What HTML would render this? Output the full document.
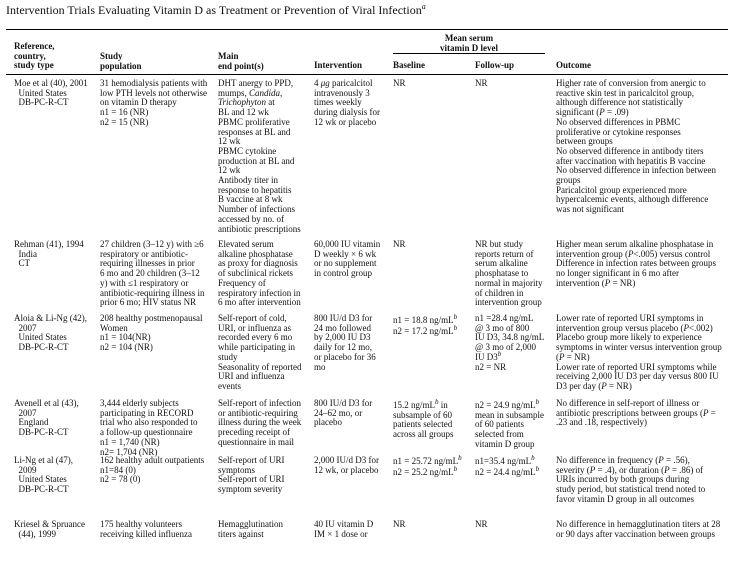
<!DOCTYPE html>
<html><head><meta charset="utf-8"><style>
body{margin:0;width:753px;height:565px;background:#fff;overflow:hidden;position:relative;font-family:"Liberation Serif",serif;color:#111}
.t{position:absolute;font-size:9px;line-height:9.7px;white-space:nowrap}
.h{font-weight:bold}
.r{position:absolute;height:0;border-top:1.3px solid #000}
sup{font-size:7px;font-style:italic;line-height:0}
i{font-style:italic}
</style></head><body>
<div class="t" style="left:6px;top:3px;font-size:12px;line-height:14px">Intervention Trials Evaluating Vitamin D as Treatment or Prevention of Viral Infection<sup style="font-size:8px">a</sup></div>
<div class="r" style="left:6px;width:722px;top:29px"></div>
<div class="r" style="left:393px;width:152px;top:53px;border-top-width:1px"></div>
<div class="r" style="left:6px;width:722px;top:74px"></div>

<div class="t h" style="left:14px;top:42px">Reference,<br>country,<br>study type</div>
<div class="t h" style="left:100px;top:52px">Study<br>population</div>
<div class="t h" style="left:218px;top:52px">Main<br>end point(s)</div>
<div class="t h" style="left:314px;top:61px">Intervention</div>
<div class="t h" style="left:393px;top:34px;width:152px;text-align:center">Mean serum<br>vitamin D level</div>
<div class="t h" style="left:393px;top:61px">Baseline</div>
<div class="t h" style="left:475px;top:61px">Follow-up</div>
<div class="t h" style="left:556px;top:61px">Outcome</div>

<!-- Moe -->
<div class="t" style="left:14px;top:79px">Moe et al (40), 2001<br>&nbsp;&nbsp;United States<br>&nbsp;&nbsp;DB-PC-R-CT</div>
<div class="t" style="left:100px;top:79px">31 hemodialysis patients with<br>low PTH levels not otherwise<br>on vitamin D therapy<br>n1 = 16 (NR)<br>n2 = 15 (NR)</div>
<div class="t" style="left:218px;top:79px">DHT anergy to PPD,<br>mumps, <i>Candida</i>,<br><i>Trichophyton</i> at<br>BL and 12 wk<br>PBMC proliferative<br>responses at BL and<br>12 wk<br>PBMC cytokine<br>production at BL and<br>12 wk<br>Antibody titer in<br>response to hepatitis<br>B vaccine at 8 wk<br>Number of infections<br>accessed by no. of<br>antibiotic prescriptions</div>
<div class="t" style="left:314px;top:79px">4 <i>μg</i> paricalcitol<br>intravenously 3<br>times weekly<br>during dialysis for<br>12 wk or placebo</div>
<div class="t" style="left:393px;top:79px">NR</div>
<div class="t" style="left:475px;top:79px">NR</div>
<div class="t" style="left:556px;top:79px">Higher rate of conversion from anergic to<br>reactive skin test in paricalcitol group,<br>although difference not statistically<br>significant (<i>P</i> = .09)<br>No observed differences in PBMC<br>proliferative or cytokine responses<br>between groups<br>No observed difference in antibody titers<br>after vaccination with hepatitis B vaccine<br>No observed difference in infection between<br>groups<br>Paricalcitol group experienced more<br>hypercalcemic events, although difference<br>was not significant</div>

<!-- Rehman -->
<div class="t" style="left:14px;top:240px">Rehman (41), 1994<br>&nbsp;&nbsp;India<br>&nbsp;&nbsp;CT</div>
<div class="t" style="left:100px;top:240px">27 children (3–12 y) with ≥6<br>respiratory or antibiotic-<br>requiring illnesses in prior<br>6 mo and 20 children (3–12<br>y) with ≤1 respiratory or<br>antibiotic-requiring illness in<br>prior 6 mo; HIV status NR</div>
<div class="t" style="left:218px;top:240px">Elevated serum<br>alkaline phosphatase<br>as proxy for diagnosis<br>of subclinical rickets<br>Frequency of<br>respiratory infection in<br>6 mo after intervention</div>
<div class="t" style="left:314px;top:240px">60,000 IU vitamin<br>D weekly × 6 wk<br>or no supplement<br>in control group</div>
<div class="t" style="left:393px;top:240px">NR</div>
<div class="t" style="left:475px;top:240px">NR but study<br>reports return of<br>serum alkaline<br>phosphatase to<br>normal in majority<br>of children in<br>intervention group</div>
<div class="t" style="left:556px;top:240px">Higher mean serum alkaline phosphatase in<br>intervention group (<i>P</i>&lt;.005) versus control<br>Difference in infection rates between groups<br>no longer significant in 6 mo after<br>intervention (<i>P</i> = NR)</div>

<!-- Aloia -->
<div class="t" style="left:14px;top:314px">Aloia &amp; Li-Ng (42),<br>&nbsp;&nbsp;2007<br>&nbsp;&nbsp;United States<br>&nbsp;&nbsp;DB-PC-R-CT</div>
<div class="t" style="left:100px;top:314px">208 healthy postmenopausal<br>Women<br>n1 = 104(NR)<br>n2 = 104 (NR)</div>
<div class="t" style="left:218px;top:314px">Self-report of cold,<br>URI, or influenza as<br>recorded every 6 mo<br>while participating in<br>study<br>Seasonality of reported<br>URI and influenza<br>events</div>
<div class="t" style="left:314px;top:314px">800 IU/d D3 for<br>24 mo followed<br>by 2,000 IU D3<br>daily for 12 mo,<br>or placebo for 36<br>mo</div>
<div class="t" style="left:393px;top:315px;line-height:11px">n1 = 18.8 ng/mL<sup>b</sup><br>n2 = 17.2 ng/mL<sup>b</sup></div>
<div class="t" style="left:475px;top:314px">n1 =28.4 ng/mL<br>@ 3 mo of 800<br>IU D3, 34.8 ng/mL<br>@ 3 mo of 2,000<br>IU D3<sup>b</sup><br>n2 = NR</div>
<div class="t" style="left:556px;top:314px">Lower rate of reported URI symptoms in<br>intervention group versus placebo (<i>P</i>&lt;.002)<br>Placebo group more likely to experience<br>symptoms in winter versus intervention group<br>(<i>P</i> = NR)<br>Lower rate of reported URI symptoms while<br>receiving 2,000 IU D3 per day versus 800 IU<br>D3 per day (<i>P</i> = NR)</div>

<!-- Avenell -->
<div class="t" style="left:14px;top:399px">Avenell et al (43),<br>&nbsp;&nbsp;2007<br>&nbsp;&nbsp;England<br>&nbsp;&nbsp;DB-PC-R-CT</div>
<div class="t" style="left:100px;top:399px">3,444 elderly subjects<br>participating in RECORD<br>trial who also responded to<br>a follow-up questionnaire<br>n1 = 1,740 (NR)<br>n2= 1,704 (NR)</div>
<div class="t" style="left:218px;top:399px">Self-report of infection<br>or antibiotic-requiring<br>illness during the week<br>preceding receipt of<br>questionnaire in mail</div>
<div class="t" style="left:314px;top:399px">800 IU/d D3 for<br>24–62 mo, or<br>placebo</div>
<div class="t" style="left:393px;top:401px">15.2 ng/mL<sup>b</sup> in<br>subsample of 60<br>patients selected<br>across all groups</div>
<div class="t" style="left:475px;top:401px">n2 = 24.9 ng/mL<sup>b</sup><br>mean in subsample<br>of 60 patients<br>selected from<br>vitamin D group</div>
<div class="t" style="left:556px;top:399px">No difference in self-report of illness or<br>antibiotic prescriptions between groups (<i>P</i> =<br>.23 and .18, respectively)</div>

<!-- Li-Ng -->
<div class="t" style="left:14px;top:456px">Li-Ng et al (47),<br>&nbsp;&nbsp;2009<br>&nbsp;&nbsp;United States<br>&nbsp;&nbsp;DB-PC-R-CT</div>
<div class="t" style="left:100px;top:456px">162 healthy adult outpatients<br>n1=84 (0)<br>n2 = 78 (0)</div>
<div class="t" style="left:218px;top:456px">Self-report of URI<br>symptoms<br>Self-report of URI<br>symptom severity</div>
<div class="t" style="left:314px;top:456px">2,000 IU/d D3 for<br>12 wk, or placebo</div>
<div class="t" style="left:393px;top:456px;line-height:11px">n1 = 25.72 ng/mL<sup>b</sup><br>n2 = 25.2 ng/mL<sup>b</sup></div>
<div class="t" style="left:475px;top:456px;line-height:11px">n1=35.4 ng/mL<sup>b</sup><br>n2 = 24.4 ng/mL<sup>b</sup></div>
<div class="t" style="left:556px;top:456px">No difference in frequency (<i>P</i> = .56),<br>severity (<i>P</i> = .4), or duration (<i>P</i> = .86) of<br>URIs incurred by both groups during<br>study period, but statistical trend noted to<br>favor vitamin D group in all outcomes</div>

<!-- Kriesel -->
<div class="t" style="left:14px;top:520px">Kriesel &amp; Spruance<br>&nbsp;&nbsp;(44), 1999</div>
<div class="t" style="left:100px;top:520px">175 healthy volunteers<br>receiving killed influenza</div>
<div class="t" style="left:218px;top:520px">Hemagglutination<br>titers against</div>
<div class="t" style="left:314px;top:520px">40 IU vitamin D<br>IM × 1 dose or</div>
<div class="t" style="left:393px;top:520px">NR</div>
<div class="t" style="left:475px;top:520px">NR</div>
<div class="t" style="left:556px;top:520px">No difference in hemagglutination titers at 28<br>or 90 days after vaccination between groups</div>
</body></html>
